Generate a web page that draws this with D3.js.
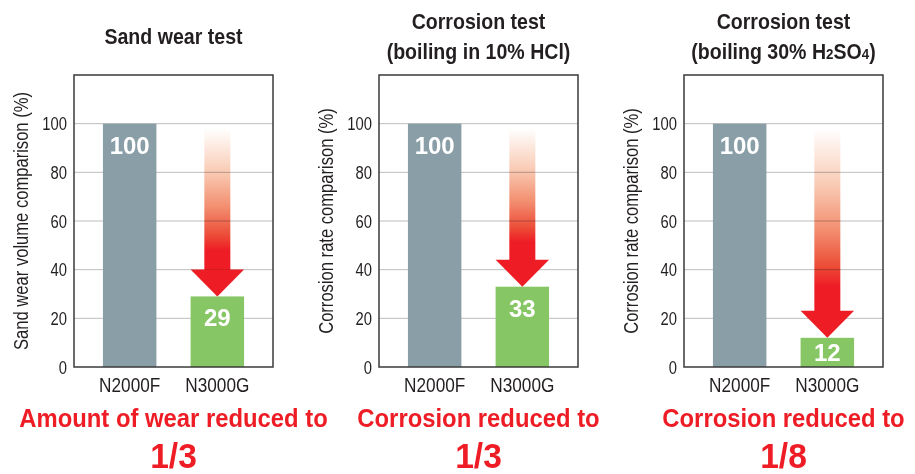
<!DOCTYPE html>
<html>
<head>
<meta charset="utf-8">
<script src="https://cdn.jsdelivr.net/npm/d3@7"></script>
<style>
  body { margin: 0; background: #fff; }
  svg { display: block; font-family: "Liberation Sans", Arial, sans-serif; }
</style>
</head>
<body>
<script>
// chart data
const categories = ["N2000F", "N3000G"];
const titles = [
  ["Sand wear test"],
  ["Corrosion test", "(boiling in 10% HCl)"],
  ["Corrosion test", "(boiling 30% H_2SO_4)"]
];
const yTitles = [
  "Sand wear volume comparison (%)",
  "Corrosion rate comparison (%)",
  "Corrosion rate comparison (%)"
];
const n2000fValues = [100, 100, 100];
const n3000gValues = [29, 33, 12];
const resultText = ["Amount of wear reduced to", "Corrosion reduced to", "Corrosion reduced to"];
const ratioText = ["1/3", "1/3", "1/8"];
const yTicks = [0, 20, 40, 60, 80, 100];
const yMax = 120;
const arrowFrom = 98;

const width = 915, height = 474;
const panelStep = 305;
const frame = { left: 74, right: 273, top: 75, bottom: 367 };
const red = "#ee1c25";
const ink = "#231f20";
const barColors = ["#8a9ea8", "#87c665"];

const svg = d3.select("body").append("svg")
  .attr("width", width).attr("height", height);

const defs = svg.append("defs");
const grad = defs.append("linearGradient")
  .attr("id", "arrowGrad").attr("x1", 0).attr("y1", 0).attr("x2", 0).attr("y2", 1);
[[0, "#ffffff"], [0.3, "#f9ccb6"], [0.55, "#f38f70"], [0.75, "#ec4d38"], [0.86, red], [1, red]]
  .forEach(([o, c]) => grad.append("stop").attr("offset", o).attr("stop-color", c));

const y = d3.scaleLinear().domain([0, yMax]).range([frame.bottom, frame.top]);
const x = d3.scaleBand().domain(categories)
  .range([frame.left, frame.right]).paddingInner(0.39).paddingOuter(0.33);

// squeeze text horizontally to get the condensed look
function condensed(g, px, py, sx) {
  return g.append("text")
    .attr("transform", `translate(${px},${py}) scale(${sx},1)`);
}

titles.forEach((lines, i) => {
  const g = svg.append("g").attr("transform", `translate(${i * panelStep},0)`);
  const cx = (frame.left + frame.right) / 2;
  const cy = (frame.top + frame.bottom) / 2;

  // title
  const base = lines.length === 1 ? 44 : 29;
  lines.forEach((line, j) => {
    const t = condensed(g, cx, base + j * 30, 0.89)
      .attr("text-anchor", "middle")
      .attr("font-weight", "bold").attr("font-size", 22).attr("fill", ink);
    line.split(/(_\d)/).filter(s => s).forEach(part => {
      if (part.startsWith("_")) {
        t.append("tspan").attr("font-size", 15).text(part.slice(1));
      } else {
        t.append("tspan").text(part);
      }
    });
  });

  // gridlines
  g.append("g").selectAll("line")
    .data(yTicks.filter(d => d > 0))
    .join("line")
    .attr("x1", frame.left).attr("x2", frame.right)
    .attr("y1", d => y(d)).attr("y2", d => y(d))
    .attr("stroke", "#bdbdbd").attr("stroke-width", 1);

  // bars
  const vals = [n2000fValues[i], n3000gValues[i]];
  g.append("g").selectAll("rect")
    .data(vals)
    .join("rect")
    .attr("x", (d, k) => x(categories[k]))
    .attr("y", d => y(d))
    .attr("width", x.bandwidth())
    .attr("height", d => y(0) - y(d))
    .attr("fill", (d, k) => barColors[k]);

  // arrow
  const ax = x(categories[1]) + x.bandwidth() / 2;
  const tipY = y(vals[1]);
  const headH = 27, shaftW = 26;
  const headTop = tipY - headH;
  g.append("rect")
    .attr("x", ax - shaftW / 2).attr("y", y(arrowFrom))
    .attr("width", shaftW).attr("height", headTop - y(arrowFrom) + 1)
    .attr("fill", "url(#arrowGrad)")
    .style("mix-blend-mode", "multiply");
  g.append("path")
    .attr("d", d3.line()([
      [x(categories[1]), headTop],
      [x(categories[1]) + x.bandwidth(), headTop],
      [ax, tipY]
    ]) + "Z")
    .attr("fill", red);

  // value labels
  vals.forEach((v, k) => {
    condensed(g, x(categories[k]) + x.bandwidth() / 2, Math.min(y(v) + 30, y(0) - 6), 0.98)
      .attr("text-anchor", "middle")
      .attr("font-weight", "bold").attr("font-size", 24.5)
      .attr("fill", "#fff")
      .text(v);
  });

  // frame
  g.append("rect")
    .attr("x", frame.left).attr("y", frame.top)
    .attr("width", frame.right - frame.left).attr("height", frame.bottom - frame.top)
    .attr("fill", "none").attr("stroke", "#3a3a3a").attr("stroke-width", 1.5);

  // y axis
  const yAxis = g.append("g")
    .attr("transform", `translate(${frame.left},0)`)
    .call(d3.axisLeft(y).tickValues(yTicks).tickSize(0).tickPadding(7));
  yAxis.select(".domain").remove();
  yAxis.selectAll("text")
    .attr("font-family", null).attr("font-size", 19).attr("fill", ink)
    .attr("x", -7 / 0.78)
    .attr("transform", "scale(0.78,1)");

  // x axis
  const xAxis = g.append("g")
    .attr("transform", `translate(0,${frame.bottom})`)
    .call(d3.axisBottom(x).tickSize(0).tickPadding(10));
  xAxis.select(".domain").remove();
  xAxis.selectAll("text")
    .attr("font-family", null).attr("font-size", 21).attr("fill", ink)
    .attr("transform", "scale(0.82,1)");

  // y title
  g.append("text")
    .attr("transform", `translate(${frame.left - 53},${cy}) rotate(-90) scale(0.79,1)`)
    .attr("text-anchor", "middle").attr("dominant-baseline", "central")
    .attr("font-size", 21).attr("fill", ink)
    .text(yTitles[i]);

  // result text
  condensed(g, cx, 427, 0.9)
    .attr("text-anchor", "middle")
    .attr("font-weight", "bold").attr("font-size", 26.5).attr("fill", red)
    .text(resultText[i]);
  condensed(g, cx, 468, 0.96)
    .attr("text-anchor", "middle")
    .attr("font-weight", "bold").attr("font-size", 35).attr("fill", red)
    .text(ratioText[i]);
});
</script>
</body>
</html>
